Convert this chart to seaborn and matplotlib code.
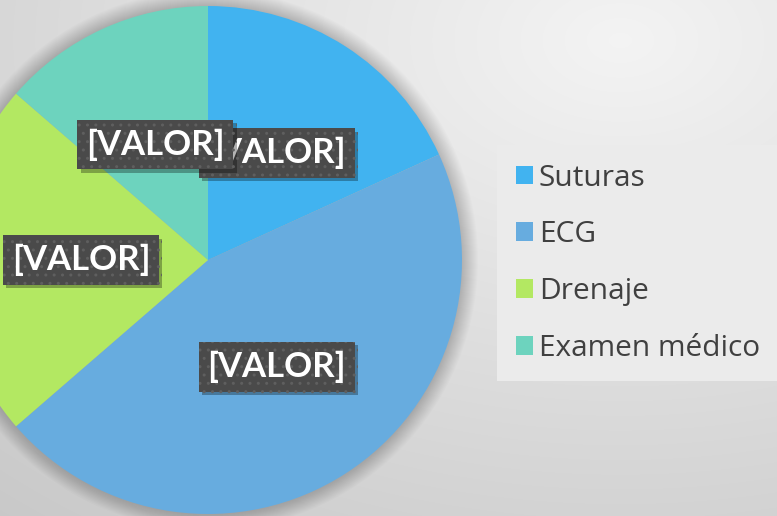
import numpy as np
import matplotlib
matplotlib.use("Agg")
import matplotlib.pyplot as plt
import matplotlib.patheffects as pe
from matplotlib.patches import Circle
import seaborn as sns

categories = ["Suturas", "ECG", "Drenaje", "Examen médico"]
values = [4, 10, 5, 3]
label_text = "[VALOR]"
colors = ["#41b3f0", "#67acdf", "#b3e862", "#6dd3be"]

sns.set_theme(style="white")
plt.rcParams["font.family"] = ["Lato", "DejaVu Sans"]

W, H = 777, 516
fig = plt.figure(figsize=(W / 100, H / 100), dpi=100)

# background gradient
bg = fig.add_axes([0, 0, 1, 1])
yy, xx = np.mgrid[0:H, 0:W]
cx, cy = 620, 40
d = np.sqrt(((xx - cx) / 900.0) ** 2 + ((yy - cy) / 600.0) ** 2)
lum = 0.955 - 0.16 * np.clip(d, 0, 1.2)
img = np.dstack([lum, lum, lum])
bg.imshow(img, extent=[0, W, 0, H], origin="upper", aspect="auto")
bg.set_xlim(0, W)
bg.set_ylim(0, H)
bg.axis("off")

ax = fig.add_axes([0, 0, 1, 1])
ax.patch.set_alpha(0)
center = (208, H - 260)
radius = 254

# soft shadow behind pie
for i in range(16):
    ax.add_patch(Circle(center, radius + 16 - i, color="black", alpha=0.012, lw=0, zorder=0))

wedges, texts, autotexts = ax.pie(
    values, colors=colors, startangle=90, counterclock=False,
    center=center, radius=radius, autopct=lambda p: label_text,
    pctdistance=0.5, wedgeprops=dict(linewidth=0),
    textprops=dict(color="white", fontsize=25, fontweight="bold"),
)
for t in autotexts:
    t.set_bbox(dict(boxstyle="square,pad=0.25", facecolor="#4a4a4a",
                    edgecolor="#5f5f5f", hatch="..", linewidth=0))
    t.get_bbox_patch().set_path_effects(
        [pe.SimplePatchShadow(offset=(2.5, -2.5), alpha=0.3, shadow_rgbFace="black"), pe.Normal()])

ax.set_xlim(0, W)
ax.set_ylim(0, H)
ax.set_aspect("equal")
ax.axis("off")

leg = ax.legend(
    wedges, categories, loc="upper left",
    bbox_to_anchor=(497 / W, 1 - 145 / H), bbox_transform=fig.transFigure,
    prop={"family": ["Open Sans", "DejaVu Sans"], "size": 21.5},
    frameon=True, fancybox=False, framealpha=1,
    facecolor="#ebebeb", edgecolor="none",
    handlelength=0.58, handleheight=0.58, handletextpad=0.2,
    labelspacing=0.93, borderpad=0.62, borderaxespad=0,
)
for t in leg.get_texts():
    t.set_color("#404040")

fig.savefig("out.png", dpi=100)
